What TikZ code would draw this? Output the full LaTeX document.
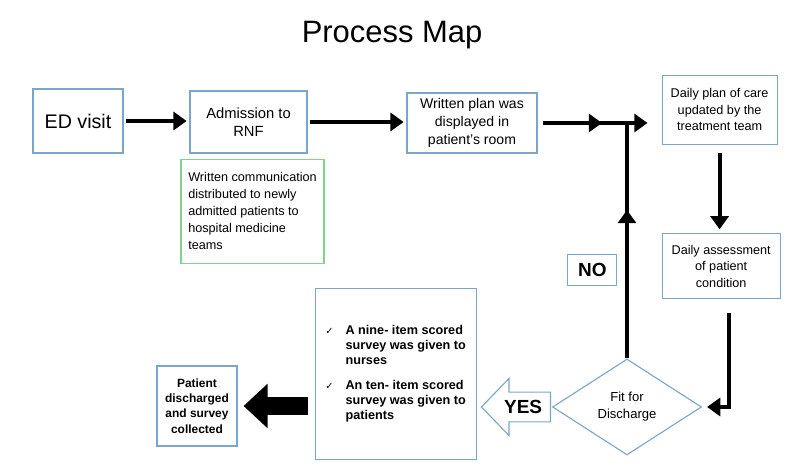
\documentclass[tikz,border=0pt]{standalone}
\usepackage{fontspec}
\setmainfont{Liberation Sans}
\newfontfamily\checkfont{DejaVu Sans}
\usetikzlibrary{positioning,shapes.geometric,shapes.arrows,arrows.meta}
\definecolor{BoxBlue}{HTML}{7AA6CB}
\definecolor{NoteGreen}{HTML}{7FD18E}
\newcommand{\tickmark}{{\checkfont\mdseries\fontsize{7}{8}\selectfont ✓}}

\begin{document}
\begin{tikzpicture}[
      every node/.style={align=center},
      box/.style={draw=BoxBlue, line width=0.8pt, inner sep=2pt, font=\fontsize{9}{12}\selectfont},
      note/.style={draw=NoteGreen, line width=0.8pt, align=left, font=\fontsize{9}{12}\selectfont},
      decision/.style={diamond, draw=BoxBlue, line width=0.8pt, minimum width=3.725cm, minimum height=2.4cm, inner sep=0pt, font=\fontsize{9.3}{12}\selectfont},
      tag/.style={draw=BoxBlue, line width=0.8pt, font=\bfseries\fontsize{13.5}{14}\selectfont},
      yesarrow/.style={single arrow, draw=BoxBlue, line width=0.8pt, fill=white, shape border rotate=180,
        single arrow head extend=0.34cm, single arrow tip angle=92, minimum height=1.725cm,
        inner xsep=0pt, inner ysep=5.4pt, font=\bfseries\fontsize{13.5}{14}\selectfont},
      arrow/.style={line width=2.8pt, -{Triangle[length=0.33cm,width=0.45cm]}},
      thickline/.style={line width=2.8pt},
      bigarrow/.style={line width=0.45cm, -{Triangle[length=0.6cm,width=1.075cm]}}
    ]
      \useasboundingbox (0,0) rectangle (20,11.7);
      \node[anchor=base, font=\fontsize{22}{26}\selectfont] (title) at (9.8,10.625) {Process Map};
      % top row
      \node[box, minimum width=2.25cm, minimum height=1.6cm, font=\fontsize{14}{16}\selectfont] (ed) at (1.95,8.675) {ED visit};
      \node[box, minimum width=2.925cm, minimum height=1.55cm, font=\fontsize{10.5}{13}\selectfont] (adm) at (6.2125,8.65) {Admission to\\RNF};
      \node[note, minimum width=3.575cm, minimum height=2.6cm, below=0.125cm of adm, xshift=0.1cm] (comm) {Written communication\\distributed to newly\\admitted patients to\\hospital medicine\\teams};
      \node[box, minimum width=3.25cm, minimum height=1.5cm, font=\fontsize{10}{13}\selectfont] (plan) at (11.8,8.625) {Written plan was\\displayed in\\patient's room};
      \node[box, minimum width=2.875cm, minimum height=1.725cm] (care) at (17.99,8.96) {Daily plan of care\\updated by the\\treatment team};
      \node[box, minimum width=2.95cm, minimum height=1.625cm, font=\fontsize{9}{11.5}\selectfont] (assess) at (18.03,5.04) {Daily assessment\\of patient\\condition};
      % bottom row
      \node[decision] (fit) at (15.675,1.525) {Fit for\\Discharge};
      \node[tag, minimum width=1.225cm, minimum height=0.775cm] (no) at (14.81,4.96) {NO};
      \node[box, minimum width=4.025cm, minimum height=4.275cm, align=left, font=\bfseries\fontsize{9}{10.7}\selectfont] (survey) at (9.89,2.34) {%
        \begin{tabular}{@{}l@{\hspace{0.3cm}}l@{}}
          \tickmark & A nine- item scored\\
                    & survey was given to\\
                    & nurses\\[7pt]
          \tickmark & An ten- item scored\\
                    & survey was given to\\
                    & patients
        \end{tabular}};
      \node[box, minimum width=2cm, minimum height=2cm, font=\bfseries\fontsize{8.5}{11}\selectfont] (done) at (4.925,1.55) {Patient\\discharged\\and survey\\collected};
      % connectors
      \draw[arrow, shorten <=2pt, shorten >=2pt] (ed.east) -- (ed.east -| adm.west);
      \draw[arrow, shorten <=2pt, shorten >=2pt] (adm.east) -- (adm.east -| plan.west);
      \coordinate (join) at (fit.north |- plan.east);
      \draw[arrow, shorten <=0.125cm] (plan.east) -- ([xshift=-0.625cm]join);
      \draw[arrow, shorten >=0.35cm] ([xshift=-0.7cm]join) -- (join -| care.west);
      \draw[thickline] (fit.north) -- (join);
      \draw[arrow] (fit.north) -- ([yshift=-2.175cm]join);
      \draw[arrow, shorten <=0.2cm, shorten >=0.1cm] (care.south) -- (care.south |- assess.north);
      \draw[arrow, shorten >=0.125cm] ([xshift=0.2cm,yshift=-0.35cm]assess.south) |- (fit.east);
      \node[yesarrow, anchor=tip] (yes) at ([xshift=0.1cm]survey.east |- fit.west) {YES};
      \draw[bigarrow, shorten <=0.175cm, shorten >=0.15cm] (survey.west |- done.east) -- (done.east);
    \end{tikzpicture}
\end{document}
